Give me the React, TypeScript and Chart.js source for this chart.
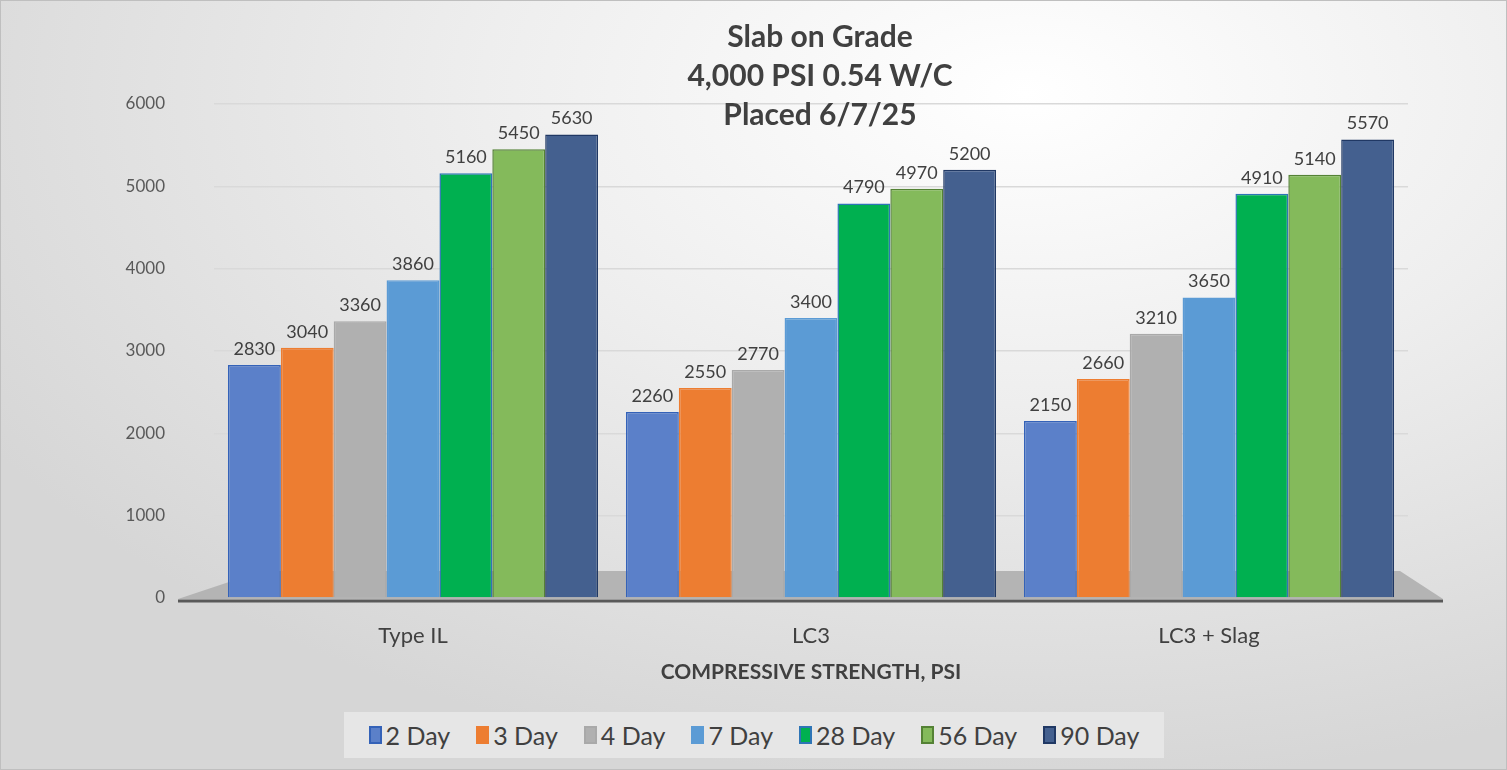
import { useEffect, useRef } from "react";
import { Chart, registerables } from "chart.js";

Chart.register(...registerables);

const categories = ["Type IL", "LC3", "LC3 + Slag"];
const seriesNames = ["2 Day", "3 Day", "4 Day", "7 Day", "28 Day", "56 Day", "90 Day"];
const day2 = [2830, 2260, 2150];
const day3 = [3040, 2550, 2660];
const day4 = [3360, 2770, 3210];
const day7 = [3860, 3400, 3650];
const day28 = [5160, 4790, 4910];
const day56 = [5450, 4970, 5140];
const day90 = [5630, 5200, 5570];
const yTicks = [0, 1000, 2000, 3000, 4000, 5000, 6000];
const titleLines = ["Slab on Grade", "4,000 PSI 0.54 W/C", "Placed 6/7/25"];

const fills = ["#5b80c9", "#ed7d31", "#b0b0b0", "#5b9bd5", "#00b050", "#84ba5b", "#44608f"];
const borders = ["#3462b8", "#ed7d31", "#a9a9a9", "#5b9bd5", "#2e75b6", "#548235", "#203864"];

const FONT = "Lato, 'Open Sans', sans-serif";

// floor, axis line, title and value labels
const decorPlugin = {
  id: "decor",
  beforeDatasetsDraw(chart: Chart) {
    const { ctx, chartArea } = chart;
    const y0 = chart.scales.y.getPixelForValue(0);
    ctx.save();
    ctx.fillStyle = "#b4b4b4";
    ctx.beginPath();
    ctx.moveTo(chartArea.left - 36, y0 + 1);
    ctx.lineTo(chartArea.left + 48, y0 - 27);
    ctx.lineTo(chartArea.right - 8, y0 - 27);
    ctx.lineTo(chartArea.right + 35, y0 + 1);
    ctx.closePath();
    ctx.fill();
    ctx.restore();
  },
  afterDatasetsDraw(chart: Chart) {
    const { ctx, chartArea } = chart;
    const y0 = chart.scales.y.getPixelForValue(0);
    ctx.save();
    ctx.strokeStyle = "#595959";
    ctx.lineWidth = 3;
    ctx.beginPath();
    ctx.moveTo(chartArea.left - 36, y0 + 3);
    ctx.lineTo(chartArea.right + 35, y0 + 3);
    ctx.stroke();

    ctx.fillStyle = "#404040";
    ctx.font = `18px ${FONT}`;
    ctx.textAlign = "center";
    ctx.textBaseline = "bottom";
    chart.data.datasets.forEach((ds, i) => {
      const meta = chart.getDatasetMeta(i);
      meta.data.forEach((bar: any, j) => {
        ctx.fillText(String(ds.data[j]), bar.x, bar.y - 7);
      });
    });

    ctx.font = `bold 30px ${FONT}`;
    ctx.textBaseline = "middle";
    const cx = (chartArea.left + chartArea.right) / 2 + 9;
    titleLines.forEach((t, i) => ctx.fillText(t, cx, 37 + i * 39));
    ctx.restore();
  },
};

const App = () => {
  const chartRef = useRef<HTMLCanvasElement | null>(null);

  useEffect(() => {
    if (!chartRef.current) return;
    const ctx = chartRef.current.getContext("2d");
    if (!ctx) return;

    const values = [day2, day3, day4, day7, day28, day56, day90];

    const myChart = new Chart(ctx, {
      type: "bar",
      data: {
        labels: categories,
        datasets: seriesNames.map((name, i) => ({
          label: name,
          data: values[i],
          backgroundColor: fills[i],
          borderColor: borders[i],
          borderWidth: 1.5,
          categoryPercentage: 0.93,
          barPercentage: 1.0,
        })),
      },
      options: {
        responsive: false,
        animation: false,
        layout: { padding: { left: 0, right: 99, top: 104, bottom: 72 } },
        plugins: {
          legend: { display: false },
          title: { display: false },
          tooltip: { enabled: false },
        },
        scales: {
          x: {
            grid: { display: false },
            border: { display: false },
            ticks: { color: "#404040", font: { family: FONT, size: 22 }, padding: 17 },
            title: {
              display: true,
              text: "COMPRESSIVE STRENGTH, PSI",
              color: "#404040",
              font: { family: FONT, size: 21, weight: "bold" },
              padding: { top: 0, bottom: 13 },
            },
            afterFit: (scale: any) => {
              scale.height = 100;
            },
          },
          y: {
            min: 0,
            max: 6000,
            afterBuildTicks: (scale: any) => {
              scale.ticks = yTicks.map((v) => ({ value: v }));
            },
            grid: { color: "#d9d9d9", lineWidth: 1.5, drawTicks: false },
            border: { display: false },
            ticks: {
              color: "#595959",
              font: { family: FONT, size: 17 },
              padding: 49,
              callback: (v: any) => String(v),
            },
            afterFit: (scale: any) => {
              scale.width = 214;
            },
          },
        },
      },
      plugins: [decorPlugin],
    });

    return () => {
      myChart.destroy();
    };
  }, []);

  return (
    <div
      style={{
        position: "absolute",
        left: 0,
        top: 0,
        width: 1507,
        height: 770,
        boxSizing: "border-box",
        border: "1px solid #bfbfbf",
        background:
          "radial-gradient(ellipse 80% 90% at 68% 12%, #ffffff 0%, #eeeeee 45%, #d6d6d6 100%)",
        fontFamily: FONT,
        overflow: "hidden",
      }}
    >
      <canvas
        ref={chartRef}
        width={1507}
        height={770}
        style={{ position: "absolute", left: -1, top: -1, width: 1507, height: 770 }}
      ></canvas>
      {/* Legend */}
      <div
        style={{
          position: "absolute",
          left: 343,
          top: 711,
          width: 820,
          height: 46,
          background: "#e6e6e6",
          display: "flex",
          alignItems: "center",
          justifyContent: "center",
          gap: 26,
          color: "#404040",
          fontSize: 25,
        }}
      >
        {seriesNames.map((name, i) => (
          <div key={name} style={{ display: "flex", alignItems: "center" }}>
            <span
              style={{
                display: "inline-block",
                width: 9,
                height: 14,
                background: fills[i],
                border: `2px solid ${borders[i]}`,
                marginRight: 4,
              }}
            ></span>
            <span>{name}</span>
          </div>
        ))}
      </div>
    </div>
  );
};

export default App;
